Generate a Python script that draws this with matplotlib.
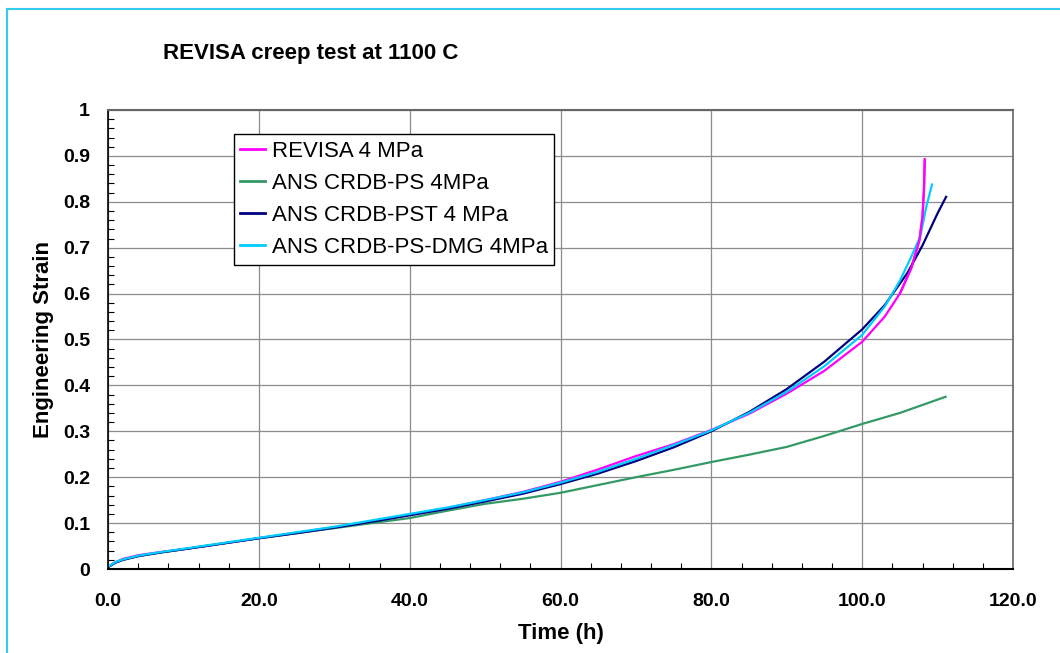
import matplotlib
matplotlib.use("Agg")
import matplotlib.pyplot as plt
from matplotlib.ticker import MultipleLocator, FormatStrFormatter
from matplotlib.lines import Line2D

plt.rcParams['font.family'] = ['Liberation Sans', 'DejaVu Sans']

# Creep curves: time (h) vs engineering strain
t_revisa = [0, 0.5, 1, 2, 4, 7, 10, 13, 15, 20, 25, 30, 35, 40, 45, 50, 55, 60, 65, 70,
            75, 80, 85, 90, 95, 100, 103, 105, 106.5, 107.6, 108.0, 108.2, 108.3]
e_revisa = [0.004, 0.010, 0.015, 0.022, 0.030, 0.037, 0.043, 0.050, 0.055, 0.067, 0.079,
            0.091, 0.104, 0.118, 0.133, 0.150, 0.168, 0.190, 0.217, 0.246, 0.272, 0.303,
            0.338, 0.382, 0.432, 0.495, 0.550, 0.600, 0.655, 0.717, 0.768, 0.830, 0.893]

t_ps = [0, 1, 2, 4, 7, 10, 15, 20, 25, 30, 35, 40, 45, 50, 55, 60, 65, 70, 75, 80,
        85, 90, 95, 100, 105, 111.2]
e_ps = [0.004, 0.014, 0.020, 0.028, 0.036, 0.043, 0.055, 0.067, 0.078, 0.089, 0.100,
        0.111, 0.127, 0.142, 0.153, 0.166, 0.183, 0.200, 0.216, 0.233, 0.249, 0.266,
        0.290, 0.316, 0.340, 0.376]

t_pst = [0, 1, 2, 4, 7, 10, 15, 20, 25, 30, 35, 40, 45, 50, 55, 60, 65, 70, 75, 80,
         85, 90, 95, 100, 103, 106, 108, 110, 111.2]
e_pst = [0.004, 0.014, 0.020, 0.028, 0.036, 0.043, 0.055, 0.067, 0.078, 0.090, 0.103,
         0.117, 0.131, 0.147, 0.164, 0.185, 0.208, 0.235, 0.265, 0.300, 0.342, 0.392,
         0.452, 0.522, 0.575, 0.645, 0.705, 0.775, 0.813]

t_dmg = [0, 1, 2, 4, 7, 10, 15, 20, 25, 30, 35, 40, 45, 50, 55, 60, 65, 70, 75, 80,
         85, 90, 95, 100, 103, 105, 106.5, 107.7, 108.5, 109.3]
e_dmg = [0.005, 0.015, 0.021, 0.029, 0.037, 0.044, 0.056, 0.068, 0.080, 0.092, 0.106,
         0.120, 0.134, 0.150, 0.167, 0.188, 0.212, 0.240, 0.270, 0.302, 0.340, 0.386,
         0.442, 0.510, 0.572, 0.628, 0.680, 0.724, 0.789, 0.840]

labels = ["REVISA 4 MPa", "ANS CRDB-PS 4MPa", "ANS CRDB-PST 4 MPa", "ANS CRDB-PS-DMG 4MPa"]
colors = ["#FF00FF", "#339966", "#000080", "#00CCFF"]

fig = plt.figure(figsize=(10.6, 6.53), dpi=100)
ax = fig.add_axes([108 / 1060, 1 - 569 / 653, 905 / 1060, 459 / 653])

series = [(t_revisa, e_revisa), (t_ps, e_ps), (t_pst, e_pst), (t_dmg, e_dmg)]
for (t, e), c in zip(series, colors):
    ax.plot(t, e, color=c, lw=1.6, solid_capstyle='butt')
# redraw the REVISA tail on top
ax.plot(t_revisa[-6:], e_revisa[-6:], color=colors[0], lw=1.6)

ax.set_xlim(0, 120)
ax.set_ylim(0, 1)
ax.xaxis.set_major_locator(MultipleLocator(20))
ax.xaxis.set_minor_locator(MultipleLocator(4))
ax.yaxis.set_major_locator(MultipleLocator(0.1))
ax.yaxis.set_minor_locator(MultipleLocator(0.02))
ax.xaxis.set_major_formatter(FormatStrFormatter('%.1f'))
ax.yaxis.set_major_formatter(plt.FuncFormatter(
    lambda v, p: "0" if abs(v) < 1e-9 else f"{v:.1f}".rstrip('0').rstrip('.')))

ax.grid(True, which='major', color='#8c8c8c', lw=0.9)
ax.set_axisbelow(True)
ax.tick_params(which='both', direction='in', color='black')
ax.tick_params(which='major', length=0)
ax.tick_params(which='minor', length=4, width=0.8)
ax.tick_params(axis='x', which='major', pad=17, labelsize=14)
ax.tick_params(axis='y', which='major', pad=13, labelsize=14)
for lab in ax.get_xticklabels() + ax.get_yticklabels():
    lab.set_fontweight('bold')

ax.spines['left'].set_color('black')
ax.spines['bottom'].set_color('black')
ax.spines['left'].set_linewidth(1.2)
ax.spines['bottom'].set_linewidth(1.5)
ax.spines['top'].set_color('#666666')
ax.spines['right'].set_color('#666666')
ax.spines['top'].set_linewidth(1.5)
ax.spines['right'].set_linewidth(1.2)

ax.set_xlabel("Time (h)", fontsize=16, fontweight='bold', labelpad=10)
ax.set_ylabel("Engineering Strain", fontsize=16, fontweight='bold', labelpad=6)

handles = [Line2D([], [], color=c, lw=2) for c in colors]
leg = ax.legend(handles, labels, loc='upper left', bbox_to_anchor=(0.139, 0.948),
                borderaxespad=0, fontsize=16, handlelength=1.1, handletextpad=0.3,
                labelspacing=0.5, fancybox=False, framealpha=1, edgecolor='black',
                borderpad=0.3)
leg.get_frame().set_linewidth(1.0)

fig.text(163 / 1060, 1 - 58.5 / 653, "REVISA creep test at 1100 C", fontsize=16,
         fontweight='bold', ha='left', va='baseline')

# figure frame
fig.add_artist(Line2D([7 / 1060, 7 / 1060], [0, 1 - 9 / 653], transform=fig.transFigure,
                      color='#33CCEE', lw=1.5))
fig.add_artist(Line2D([7 / 1060, 1], [1 - 9 / 653, 1 - 9 / 653], transform=fig.transFigure,
                      color='#33CCEE', lw=1.5))

fig.savefig("out.png", dpi=100)
